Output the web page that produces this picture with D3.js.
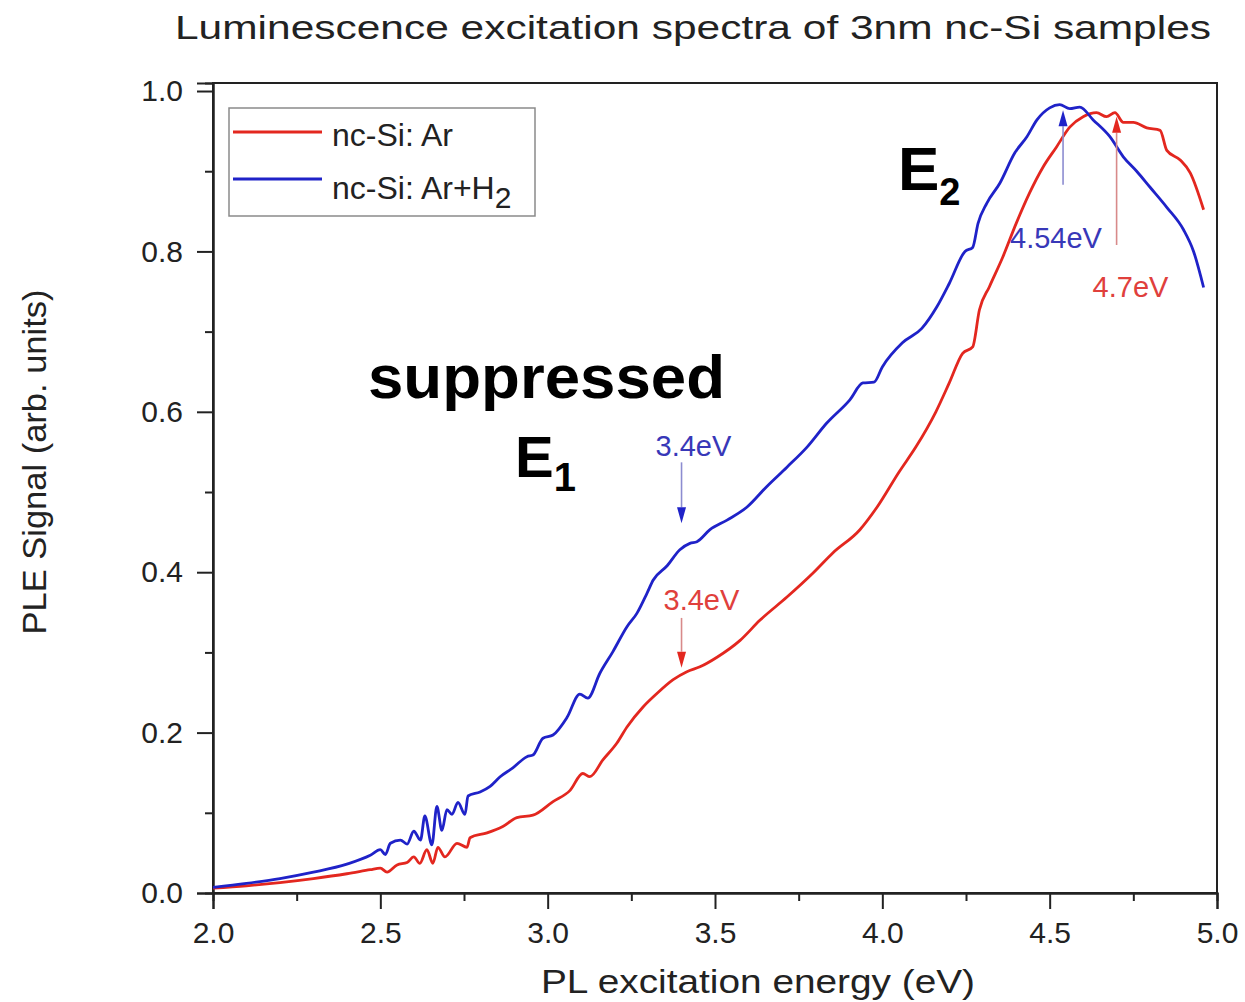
<!DOCTYPE html>
<html>
<head>
<meta charset="utf-8">
<script src="https://cdn.jsdelivr.net/npm/d3@7"></script>
<style>
  html, body { margin: 0; padding: 0; background: #fff; }
  svg { display: block; font-family: "Liberation Sans", Arial, sans-serif; }
</style>
</head>
<body>
<svg id="chart" width="1245" height="1002"></svg>
<script>
// PL excitation energy (eV) and PLE signal for nc-Si annealed in Ar
const arEnergy = [2.00, 2.10, 2.20, 2.30, 2.40, 2.47, 2.50, 2.52, 2.55, 2.58, 2.60, 2.618, 2.639, 2.657,
  2.672, 2.693, 2.729, 2.759, 2.768, 2.819, 2.866, 2.908, 2.956, 3.016, 3.067, 3.105, 3.126, 3.165,
  3.207, 3.237, 3.285, 3.327, 3.375, 3.416, 3.455, 3.506, 3.575, 3.634, 3.715, 3.793, 3.852, 3.933,
  3.984, 4.05, 4.10, 4.16, 4.20, 4.24, 4.27, 4.29, 4.32, 4.36, 4.40, 4.44, 4.48, 4.52, 4.56, 4.60,
  4.64, 4.67, 4.695, 4.72, 4.75, 4.79, 4.83, 4.85, 4.89, 4.92, 4.96];
const arSignal = [0.006, 0.009, 0.013, 0.018, 0.024, 0.029, 0.031, 0.026, 0.035, 0.038, 0.045, 0.037, 0.054, 0.037,
  0.057, 0.045, 0.062, 0.057, 0.069, 0.075, 0.083, 0.094, 0.097, 0.114, 0.128, 0.149, 0.145, 0.166,
  0.187, 0.207, 0.232, 0.249, 0.266, 0.276, 0.282, 0.294, 0.315, 0.340, 0.369, 0.399, 0.424, 0.453,
  0.481, 0.525, 0.556, 0.600, 0.636, 0.673, 0.681, 0.727, 0.756, 0.793, 0.835, 0.873, 0.905, 0.930, 0.955, 0.968,
  0.973, 0.968, 0.973, 0.961, 0.961, 0.954, 0.951, 0.926, 0.914, 0.898, 0.852];

// PL excitation energy (eV) and PLE signal for nc-Si annealed in Ar+H2
const arH2Energy = [2.00, 2.10, 2.20, 2.30, 2.40, 2.47, 2.50, 2.515, 2.53, 2.56, 2.58, 2.60, 2.62, 2.633,
  2.654, 2.669, 2.684, 2.699, 2.714, 2.732, 2.753, 2.762, 2.798, 2.828, 2.858, 2.896, 2.938, 2.956,
  2.986, 3.016, 3.058, 3.096, 3.12, 3.156, 3.195, 3.237, 3.267, 3.297, 3.315, 3.357, 3.395, 3.425,
  3.446, 3.485, 3.536, 3.595, 3.655, 3.715, 3.775, 3.834, 3.903, 3.942, 3.975, 4.00, 4.06, 4.118,
  4.163, 4.20, 4.247, 4.27, 4.286, 4.312, 4.351, 4.396, 4.432, 4.462, 4.50, 4.53, 4.56, 4.59, 4.63,
  4.68, 4.72, 4.76, 4.80, 4.85, 4.90, 4.93, 4.96];
const arH2Signal = [0.007, 0.012, 0.018, 0.026, 0.036, 0.047, 0.054, 0.048, 0.062, 0.066, 0.061, 0.077, 0.066, 0.096,
  0.060, 0.108, 0.078, 0.104, 0.098, 0.113, 0.098, 0.121, 0.126, 0.133, 0.145, 0.156, 0.170, 0.172,
  0.193, 0.197, 0.219, 0.248, 0.243, 0.274, 0.301, 0.332, 0.349, 0.374, 0.390, 0.408, 0.428, 0.436,
  0.438, 0.453, 0.465, 0.481, 0.507, 0.531, 0.556, 0.586, 0.615, 0.636, 0.637, 0.656, 0.686, 0.704,
  0.731, 0.760, 0.800, 0.805, 0.835, 0.860, 0.885, 0.923, 0.943, 0.964, 0.979, 0.983, 0.978, 0.980, 0.964,
  0.943, 0.918, 0.900, 0.880, 0.855, 0.827, 0.800, 0.755];

const xTicks = [2.0, 2.5, 3.0, 3.5, 4.0, 4.5, 5.0];
const xMinorTicks = [2.25, 2.75, 3.25, 3.75, 4.25, 4.75];
const yTicks = [0.0, 0.2, 0.4, 0.6, 0.8, 1.0];
const yMinorTicks = [0.1, 0.3, 0.5, 0.7, 0.9];

const seriesNames = ["nc-Si: Ar", "nc-Si: Ar+H"];

// Peak markers: energy, arrow span (signal from tail to tip), label
const markers = [
  { series: 1, energy: 3.4, from: 0.537, to: 0.461, label: "3.4eV" },
  { series: 0, energy: 3.4, from: 0.343, to: 0.281, label: "3.4eV" },
  { series: 1, energy: 4.54, from: 0.883, to: 0.976, label: "4.54eV" },
  { series: 0, energy: 4.7, from: 0.808, to: 0.968, label: "4.7eV" }
];

const colors = ["#e3271f", "#1f22c8"];
const shaftColors = ["#d88a8a", "#8c8cd0"];
const labelColors = ["#e0403c", "#3838b8"];

const svg = d3.select("#chart");
const plotLeft = 213, plotRight = 1217, plotTop = 83, plotBottom = 893;

const x = d3.scaleLinear().domain([2, 5]).range([plotLeft, plotRight]);
const y = d3.scaleLinear().domain([0, 1.01]).range([plotBottom, plotTop]);

// title
svg.append("text")
  .attr("x", 693).attr("y", 39)
  .attr("text-anchor", "middle")
  .attr("font-size", 33).attr("fill", "#222")
  .attr("textLength", 1036).attr("lengthAdjust", "spacingAndGlyphs")
  .text("Luminescence excitation spectra of 3nm nc-Si samples");

// frame
svg.append("rect")
  .attr("x", plotLeft).attr("y", plotTop)
  .attr("width", plotRight - plotLeft).attr("height", plotBottom - plotTop)
  .attr("fill", "none").attr("stroke", "#222").attr("stroke-width", 2);

function styleAxis(g) {
  g.select(".domain").attr("stroke", "#222").attr("stroke-width", 2);
  g.selectAll(".tick line").attr("stroke", "#222").attr("stroke-width", 2);
  g.selectAll(".tick text").attr("fill", "#222").attr("font-size", 30)
    .attr("font-family", "'Liberation Sans', Arial, sans-serif");
}

// x axis: minor then major ticks
svg.append("g").attr("transform", `translate(0,${plotBottom})`)
  .call(d3.axisBottom(x).tickValues(xMinorTicks).tickSize(8).tickFormat(""))
  .call(styleAxis);
svg.append("g").attr("transform", `translate(0,${plotBottom})`)
  .call(d3.axisBottom(x).tickValues(xTicks).tickSize(16).tickPadding(13).tickFormat(d3.format(".1f")))
  .call(styleAxis);

// y axis: minor then major ticks
svg.append("g").attr("transform", `translate(${plotLeft},0)`)
  .call(d3.axisLeft(y).tickValues(yMinorTicks).tickSize(8).tickFormat(""))
  .call(styleAxis);
svg.append("g").attr("transform", `translate(${plotLeft},0)`)
  .call(d3.axisLeft(y).tickValues(yTicks).tickSize(16).tickPadding(14).tickFormat(d3.format(".1f")))
  .call(styleAxis);

// axis titles
svg.append("text")
  .attr("x", 758).attr("y", 993)
  .attr("text-anchor", "middle")
  .attr("font-size", 34).attr("fill", "#222")
  .attr("textLength", 434).attr("lengthAdjust", "spacingAndGlyphs")
  .text("PL excitation energy (eV)");

svg.append("text")
  .attr("transform", "translate(46,462) rotate(-90)")
  .attr("text-anchor", "middle")
  .attr("font-size", 33).attr("fill", "#222")
  .attr("textLength", 345).attr("lengthAdjust", "spacingAndGlyphs")
  .text("PLE Signal (arb. units)");

// spectra
const line = d3.line().x(d => x(d[0])).y(d => y(d[1])).curve(d3.curveMonotoneX);
const spectra = [
  d3.zip(arEnergy, arSignal),
  d3.zip(arH2Energy, arH2Signal)
];
spectra.forEach((pts, i) => {
  svg.append("path")
    .datum(pts)
    .attr("d", line)
    .attr("fill", "none")
    .attr("stroke", colors[i])
    .attr("stroke-width", 2.8)
    .attr("stroke-linejoin", "round");
});

// peak arrows and labels
const labelOffsets = [
  { dx: -26, dy: -6 },
  { dx: -18, dy: -8 },
  { dx: -53, dy: 63 },
  { dx: -24, dy: 52 }
];
markers.forEach((m, i) => {
  const px = x(m.energy);
  const y0 = y(m.from), y1 = y(m.to);
  const dir = y1 > y0 ? 1 : -1;
  const headLen = 16, headHalf = 4.5;
  svg.append("line")
    .attr("x1", px).attr("x2", px)
    .attr("y1", y0).attr("y2", y1 - dir * headLen)
    .attr("stroke", shaftColors[m.series]).attr("stroke-width", 1.6);
  svg.append("path")
    .attr("d", `M${px - headHalf},${y1 - dir * headLen} L${px + headHalf},${y1 - dir * headLen} L${px},${y1} Z`)
    .attr("fill", colors[m.series]);
  const off = labelOffsets[i];
  svg.append("text")
    .attr("x", px + off.dx).attr("y", y0 + off.dy)
    .attr("font-size", 29).attr("fill", labelColors[m.series])
    .text(m.label);
});

// legend
const legend = svg.append("g");
legend.append("rect")
  .attr("x", 229).attr("y", 108).attr("width", 306).attr("height", 108)
  .attr("fill", "#fff").attr("stroke", "#8a8a8a").attr("stroke-width", 1.5);
const legendRows = [{ ly: 132, ty: 146 }, { ly: 179, ty: 199 }];
seriesNames.forEach((name, i) => {
  legend.append("line")
    .attr("x1", 233).attr("x2", 322)
    .attr("y1", legendRows[i].ly).attr("y2", legendRows[i].ly)
    .attr("stroke", colors[i]).attr("stroke-width", 2.8);
  const t = legend.append("text")
    .attr("x", 332).attr("y", legendRows[i].ty)
    .attr("font-size", 32).attr("fill", "#222")
    .text(name);
  if (i === 1) {
    t.append("tspan").attr("dy", 9).attr("font-size", 30).text("2");
  }
});

// band annotations
svg.append("text")
  .attr("x", 368).attr("y", 398)
  .attr("font-size", 62).attr("font-weight", "bold").attr("fill", "#000")
  .attr("textLength", 357).attr("lengthAdjust", "spacingAndGlyphs")
  .text("suppressed");

const e1 = svg.append("text")
  .attr("x", 515).attr("y", 477)
  .attr("font-size", 58).attr("font-weight", "bold").attr("fill", "#000")
  .text("E");
e1.append("tspan").attr("dy", 14).attr("font-size", 40).text("1");

const e2 = svg.append("text")
  .attr("x", 898).attr("y", 190)
  .attr("font-size", 62).attr("font-weight", "bold").attr("fill", "#000")
  .text("E");
e2.append("tspan").attr("dy", 15).attr("font-size", 38).text("2");
</script>
</body>
</html>
